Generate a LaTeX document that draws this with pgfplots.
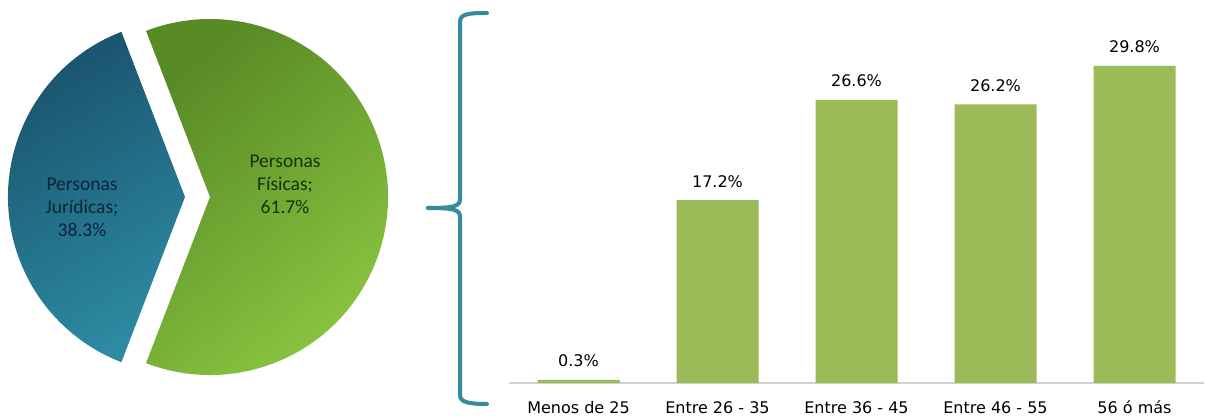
\documentclass[border=0pt]{standalone}
\usepackage{pgfplots}
\pgfplotsset{compat=1.18}
\usepackage{pgfplotstable}
\usepackage{fontspec}
\setmainfont{DejaVu Sans}
\newfontfamily\carlito{Carlito}
\definecolor{barG}{HTML}{9BBB59}
\definecolor{blueD}{RGB}{26,82,108}
\definecolor{blueL}{RGB}{44,138,162}
\definecolor{greenD}{RGB}{88,138,38}
\definecolor{greenL}{RGB}{142,202,66}
\definecolor{braceC}{RGB}{52,138,158}
\definecolor{pjT}{RGB}{12,38,58}
\definecolor{pfT}{RGB}{24,50,12}
\pgfplotstableread{
share
38.3
61.7
}\pietab
\pgfplotstableread{
x value
0 0.3
1 17.2
2 26.6
3 26.2
4 29.8
}\bartab
\begin{document}
\begin{tikzpicture}
\useasboundingbox (0pt,0pt) rectangle (1205pt,417pt);
\pgfplotstablegetelem{0}{share}\of\pietab \let\pj\pgfplotsretval
\pgfplotstablegetelem{1}{share}\of\pietab \let\pf\pgfplotsretval
\pgfmathsetmacro{\half}{1.8*\pj}
\pgfmathsetmacro{\sa}{180-\half}
\pgfmathsetmacro{\ea}{180+\half}
% pie
\begin{axis}[at={(0pt,0pt)}, anchor=origin, x=1pt, y=1pt,
  xmin=0, xmax=420, ymin=0, ymax=417, hide axis, clip=false,
  /pgf/number format/assume math mode=true]
\shade[top color=blueD, bottom color=blueL, shading angle=30]
  (axis cs:185,220) -- ++(\sa:177pt) arc[start angle=\sa, end angle=\ea, radius=177pt] -- cycle;
\shade[top color=greenD, bottom color=greenL, shading angle=40]
  (axis cs:210,220) -- ++(\ea:178pt) arc[start angle=\ea, end angle=\sa+360, radius=178pt] -- cycle;
\node[align=center, text=pjT, font=\carlito\fontsize{19.5}{23}\selectfont] at (axis cs:82,210)
  {Personas\\Jurídicas;\\\pgfmathprintnumber[fixed,precision=1,fixed zerofill,assume math mode=true]{\pj}\%};
\node[align=center, text=pfT, font=\carlito\fontsize{19.5}{23}\selectfont] at (axis cs:285,233)
  {Personas\\Físicas;\\\pgfmathprintnumber[fixed,precision=1,fixed zerofill,assume math mode=true]{\pf}\%};
\end{axis}
% brace
\draw[braceC, line width=4pt, line cap=round]
  (487pt,404pt) .. controls (468pt,404pt) and (460pt,403pt) .. (460pt,395pt) -- (460pt,218pt)
  .. controls (460pt,211pt) and (455pt,209pt) .. (428pt,209pt);
\draw[braceC, line width=4pt, line cap=round]
  (428pt,209pt) .. controls (455pt,209pt) and (460pt,207pt) .. (460pt,200pt) -- (460pt,22pt)
  .. controls (460pt,15pt) and (468pt,13pt) .. (487pt,13pt);
% bars
\begin{axis}[at={(509pt,34pt)}, anchor=south west, scale only axis,
  width=695pt, height=383pt, xmin=-0.5, xmax=4.5, ymin=0, ymax=36,
  axis x line*=bottom, axis y line=none,
  x axis line style={draw=black!18, line width=1.2pt},
  ybar, bar width=82pt, clip=false,
  xtick=data, xticklabels={Menos de 25, Entre 26 - 35, Entre 36 - 45, Entre 46 - 55, 56 ó más},
  major tick length=0pt, ytick=\empty,
  /pgf/number format/assume math mode=true,
  xticklabel style={anchor=base, yshift=-31pt, font=\fontsize{16}{18}\selectfont, text=black},
  nodes near coords={\pgfmathprintnumber[fixed,precision=1,fixed zerofill]{\pgfplotspointmeta}\%},
  nodes near coords style={anchor=base, yshift=13pt, font=\fontsize{16}{18}\selectfont, text=black},
  ]
\addplot[fill=barG, draw=none] table[x=x, y=value] {\bartab};
\end{axis}
\end{tikzpicture}
\end{document}
